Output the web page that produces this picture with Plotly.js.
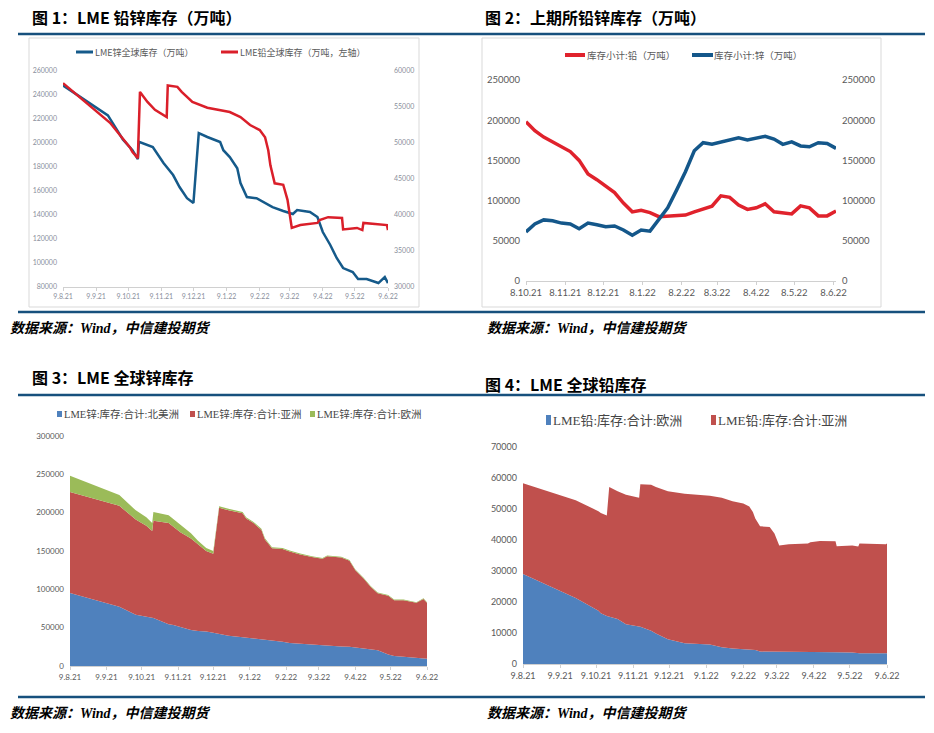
<!DOCTYPE html>
<html>
<head>
<meta charset="utf-8">
<script src="https://cdn.plot.ly/plotly-3.0.1.min.js"></script>
<style>
  body { margin: 0; background: #fff; }
  #chart { width: 934px; height: 733px; }
</style>
</head>
<body>
<div id="chart"></div>
<script>
// LME zinc total + by region (fig 1 and fig 3 share the dates)
var znDates = ['2021-08-09','2021-09-20','2021-10-04','2021-10-13','2021-10-18','2021-10-19','2021-11-01','2021-11-05','2021-11-11','2021-11-20','2021-11-26','2021-12-03','2021-12-09','2021-12-14','2021-12-22','2022-01-03','2022-01-06','2022-01-12','2022-01-19','2022-01-22','2022-01-28','2022-02-06','2022-02-12','2022-02-21','2022-03-03','2022-03-12','2022-03-16','2022-03-28','2022-04-04','2022-04-09','2022-04-16','2022-04-22','2022-04-28','2022-05-07','2022-05-12','2022-05-20','2022-05-31','2022-06-06','2022-06-09'];
var znTotal = [248000,223000,203000,194000,186600,201000,196600,191600,183300,173300,163300,154000,150000,208300,205000,200800,194000,188300,179000,166600,155000,154000,150800,146600,143300,140800,144100,142500,138300,125800,115000,104200,95800,92500,86600,86600,83300,88300,83300];
var znNA = [95300,77300,67000,64000,62800,62500,54500,53500,51000,47000,45500,45000,43500,42000,39500,37500,37000,36000,35000,34500,33500,31500,30000,29000,27500,27000,26500,25500,25000,24000,23000,22000,20500,15000,13000,12000,10500,10000,9500];
var znAsia = [131700,131700,124000,119000,113300,127000,132100,128600,123300,119300,112800,105000,103000,164300,163700,161800,155500,150800,142500,130600,120000,121000,119300,116400,114800,112800,116600,116000,112300,100800,91000,81300,74400,76600,72800,73800,72000,77500,73000];
var znEU = [21000,14000,12000,11000,10500,11500,10000,9500,9000,7000,5000,4000,3500,2000,1800,1500,1500,1500,1500,1500,1500,1500,1500,1200,1000,1000,1000,1000,1000,1000,1000,900,900,900,800,800,800,800,800];

// LME lead total + by region (fig 1 and fig 4)
var pbDates = ['2021-08-09','2021-09-22','2021-10-11','2021-10-13','2021-10-18','2021-10-20','2021-10-27','2021-11-03','2021-11-14','2021-11-15','2021-11-24','2021-11-28','2021-12-08','2021-12-22','2022-01-12','2022-01-22','2022-01-31','2022-02-09','2022-02-14','2022-02-17','2022-02-19','2022-02-23','2022-03-03','2022-03-07','2022-03-11','2022-03-19','2022-04-04','2022-04-06','2022-04-14','2022-04-27','2022-04-28','2022-05-11','2022-05-16','2022-05-17','2022-06-08','2022-06-09'];
var pbTotal = [58300,52800,49300,48750,47900,57100,55700,54600,53600,58000,57800,57100,55700,54900,54300,53600,52500,51800,50800,49000,46900,44400,44200,42100,38200,38600,38900,39300,39700,39600,38000,38200,37900,38900,38600,37900];
var pbEU = [29000,21300,17200,16400,15500,15300,14500,12800,12000,12000,10700,9800,8000,6700,6300,5400,5000,4800,4700,4600,4500,4000,4000,4000,4000,4000,4000,4000,4000,3800,3800,3700,3500,3500,3500,3500];
var pbAsia = [29300,31500,32100,32350,32400,41800,41200,41800,41600,46000,47100,47300,47700,48200,48000,48200,47500,47000,46100,44400,42400,40400,40200,38100,34200,34600,34900,35300,35700,35800,34200,34500,34400,35400,35100,35400];

// SHFE weekly stocks (fig 2)
var shfeDates = ['2021-10-08','2021-10-15','2021-10-22','2021-10-29','2021-11-05','2021-11-12','2021-11-19','2021-11-26','2021-12-03','2021-12-10','2021-12-17','2021-12-24','2021-12-31','2022-01-07','2022-01-14','2022-01-21','2022-01-28','2022-02-04','2022-02-11','2022-02-18','2022-02-25','2022-03-04','2022-03-11','2022-03-18','2022-03-25','2022-04-01','2022-04-08','2022-04-15','2022-04-22','2022-04-29','2022-05-06','2022-05-13','2022-05-20','2022-05-27','2022-06-03','2022-06-10'];
var shfePb = [198000,187000,179000,173000,167000,161000,150000,133000,126000,118000,110000,97000,86000,88000,85000,80000,81000,81500,82000,86000,89000,93000,106000,104000,94500,89000,91000,96000,86000,84500,83500,93500,91000,81000,81000,87000];
var shfeZn = [61000,71000,76000,75000,72000,71000,65000,72000,70000,67500,68500,63500,57000,63500,62000,76000,91000,113000,136000,162000,172000,170000,173000,176000,178000,175500,177500,180000,176500,170000,173000,168000,167000,172000,171000,165000];

// tick labels
var lmeTickDates = ['2021-08-09','2021-09-09','2021-10-09','2021-11-09','2021-12-09','2022-01-09','2022-02-09','2022-03-09','2022-04-09','2022-05-09','2022-06-09'];
var lmeTickText = ['9.8.21','9.9.21','9.10.21','9.11.21','9.12.21','9.1.22','9.2.22','9.3.22','9.4.22','9.5.22','9.6.22'];
var shfeTickDates = ['2021-10-08','2021-11-08','2021-12-08','2022-01-08','2022-02-08','2022-03-08','2022-04-08','2022-05-08','2022-06-08'];
var shfeTickText = ['8.10.21','8.11.21','8.12.21','8.1.22','8.2.22','8.3.22','8.4.22','8.5.22','8.6.22'];

var W = 934, H = 733;
function px(x) { return x / W; }
function py(y) { return 1 - y / H; }

var BLUE_LINE = '#155a8a', RED_LINE = '#da1f2a';
var C_BLUE = '#4f81bd', C_RED = '#c0504d', C_GREEN = '#9bbb59';
var RULE = '#17507d';
var CJK = 'Noto Sans CJK SC';
var SERIF = 'Liberation Serif, Noto Sans CJK SC';
var NUM = 'Lato, Noto Sans CJK SC';

function xAxis(x0, x1, anchor, range, vals, text, size, color) {
  return {
    domain: [px(x0), px(x1)], anchor: anchor, type: 'date', range: range,
    tickmode: 'array', tickvals: vals, ticktext: text,
    ticks: 'outside', ticklen: 3, tickcolor: '#d0d0d0',
    showline: true, linecolor: '#d0d0d0', linewidth: 1,
    showgrid: false, zeroline: false,
    tickfont: {family: NUM, size: size, color: color}
  };
}
function yAxis(yb, yt, anchor, range, dtick, size, color) {
  return {
    domain: [py(yb), py(yt)], anchor: anchor, range: range, dtick: dtick,
    tickformat: 'd', showgrid: false, zeroline: false, showline: false,
    ticks: '', ticklabelstandoff: 5,
    tickfont: {family: NUM, size: size, color: color}
  };
}

var data = [
  {x: znDates, y: znTotal, xaxis: 'x', yaxis: 'y', mode: 'lines', name: 'LME锌全球库存（万吨）',
   line: {color: BLUE_LINE, width: 2.5}},
  {x: pbDates, y: pbTotal, xaxis: 'x', yaxis: 'y2', mode: 'lines', name: 'LME铅全球库存（万吨，左轴）',
   line: {color: RED_LINE, width: 2.5}},
  {x: shfeDates, y: shfePb, xaxis: 'x2', yaxis: 'y3', mode: 'lines', name: '库存小计:铅（万吨）',
   line: {color: '#e0222c', width: 3.5}},
  {x: shfeDates, y: shfeZn, xaxis: 'x2', yaxis: 'y4', mode: 'lines', name: '库存小计:锌（万吨）',
   line: {color: '#14578a', width: 3.5}},
  {x: znDates, y: znNA, xaxis: 'x3', yaxis: 'y5', stackgroup: 'zn', mode: 'lines', name: 'LME锌:库存:合计:北美洲',
   line: {width: 0, color: C_BLUE}, fillcolor: C_BLUE},
  {x: znDates, y: znAsia, xaxis: 'x3', yaxis: 'y5', stackgroup: 'zn', mode: 'lines', name: 'LME锌:库存:合计:亚洲',
   line: {width: 0, color: C_RED}, fillcolor: C_RED},
  {x: znDates, y: znEU, xaxis: 'x3', yaxis: 'y5', stackgroup: 'zn', mode: 'lines', name: 'LME锌:库存:合计:欧洲',
   line: {width: 0, color: C_GREEN}, fillcolor: C_GREEN},
  {x: pbDates, y: pbEU, xaxis: 'x4', yaxis: 'y6', stackgroup: 'pb', mode: 'lines', name: 'LME铅:库存:合计:欧洲',
   line: {width: 0, color: C_BLUE}, fillcolor: C_BLUE},
  {x: pbDates, y: pbAsia, xaxis: 'x4', yaxis: 'y6', stackgroup: 'pb', mode: 'lines', name: 'LME铅:库存:合计:亚洲',
   line: {width: 0, color: C_RED}, fillcolor: C_RED}
];

var ann = [];
var shapes = [];
function text(x, y, s, size, opts) {
  var a = {xref: 'paper', yref: 'paper', x: px(x), y: py(y), text: s, showarrow: false,
    xanchor: 'left', yanchor: 'middle',
    font: {family: CJK, size: size, color: '#595959'}};
  if (opts) for (var k in opts) a.font[k] = opts[k];
  ann.push(a);
}
function hline(x0, x1, y, color, w) {
  shapes.push({type: 'line', xref: 'paper', yref: 'paper', x0: px(x0), x1: px(x1), y0: py(y), y1: py(y),
    line: {color: color, width: w}});
}
function box(x0, y0, x1, y1, color, fill) {
  shapes.push({type: 'rect', xref: 'paper', yref: 'paper', x0: px(x0), x1: px(x1), y0: py(y1), y1: py(y0),
    line: {color: color, width: fill ? 0 : 1}, fillcolor: fill ? color : 'rgba(0,0,0,0)'});
}

// titles, rules, sources
text(30, 17, '图 1：LME 铅锌库存（万吨）', 16, {color: '#000', weight: 'bold'});
text(483, 17, '图 2：上期所铅锌库存（万吨）', 16, {color: '#000', weight: 'bold'});
text(30, 377, '图 3：LME 全球锌库存', 16, {color: '#000', weight: 'bold'});
text(483, 384, '图 4：LME 全球铅库存', 16, {color: '#000', weight: 'bold'});
var src = '数据来源：Wind，中信建投期货';
var srcFont = {family: SERIF, color: '#000', weight: 'bold', style: 'italic'};
text(8, 328, src, 14, srcFont);
text(485, 328, src, 14, srcFont);
text(8, 713, src, 14, srcFont);
text(485, 713, src, 14, srcFont);
hline(18, 925, 34, RULE, 2.5);
hline(18, 925, 312, RULE, 2.5);
hline(18, 925, 395, RULE, 2.5);
hline(18, 925, 697, RULE, 2.5);
box(29, 38, 419, 307, '#d9d9d9');
box(482, 38, 881, 307, '#d9d9d9');

// legends
hline(76, 93, 52, BLUE_LINE, 3);
text(93, 52, data[0].name, 9);
hline(221, 238, 52, RED_LINE, 3);
text(238, 52, data[1].name, 9);
hline(565, 585, 55, '#e0222c', 4);
text(585, 55, data[2].name, 9.5);
hline(692, 713, 55, '#14578a', 4);
text(712, 55, data[3].name, 9.5);
var legFont = {family: SERIF, color: '#454545'};
box(57, 411, 62, 417, C_BLUE, true);
text(62, 414, data[4].name, 10.5, legFont);
box(190, 411, 195, 417, C_RED, true);
text(195, 414, data[5].name, 10.5, legFont);
box(310, 411, 315, 417, C_GREEN, true);
text(315, 414, data[6].name, 10.5, legFont);
box(546, 415, 551, 425, C_BLUE, true);
text(551, 420, data[7].name, 13, legFont);
box(711, 415, 716, 425, C_RED, true);
text(716, 420, data[8].name, 13, legFont);

var layout = {
  width: W, height: H,
  margin: {l: 0, r: 0, t: 0, b: 0},
  paper_bgcolor: '#fff', plot_bgcolor: 'rgba(0,0,0,0)',
  showlegend: false,
  xaxis: xAxis(63, 388, 'y', ['2021-08-09', '2022-06-09'], lmeTickDates, lmeTickText, 7, '#8a8f9c'),
  yaxis: yAxis(287, 71, 'x', [80000, 260000], 20000, 7, '#8a8f9c'),
  yaxis2: Object.assign(yAxis(287, 71, 'x', [30000, 60000], 5000, 7, '#8a8f9c'), {overlaying: 'y', side: 'right'}),
  xaxis2: xAxis(526, 836, 'y3', ['2021-10-08', '2022-06-10'], shfeTickDates, shfeTickText, 9.5, '#595959'),
  yaxis3: yAxis(281, 80, 'x2', [0, 250000], 50000, 9.5, '#595959'),
  yaxis4: Object.assign(yAxis(281, 80, 'x2', [0, 250000], 50000, 9.5, '#595959'), {overlaying: 'y3', side: 'right'}),
  xaxis3: xAxis(70, 427, 'y5', ['2021-08-09', '2022-06-09'], lmeTickDates, lmeTickText, 8, '#595959'),
  yaxis5: yAxis(666, 436, 'x3', [0, 300000], 50000, 8, '#595959'),
  xaxis4: xAxis(523, 887, 'y6', ['2021-08-09', '2022-06-09'], lmeTickDates, lmeTickText, 9, '#595959'),
  yaxis6: yAxis(664, 447, 'x4', [0, 70000], 10000, 9, '#595959'),
  annotations: ann,
  shapes: shapes
};

Plotly.newPlot('chart', data, layout, {displayModeBar: false, staticPlot: true});
</script>
</body>
</html>
